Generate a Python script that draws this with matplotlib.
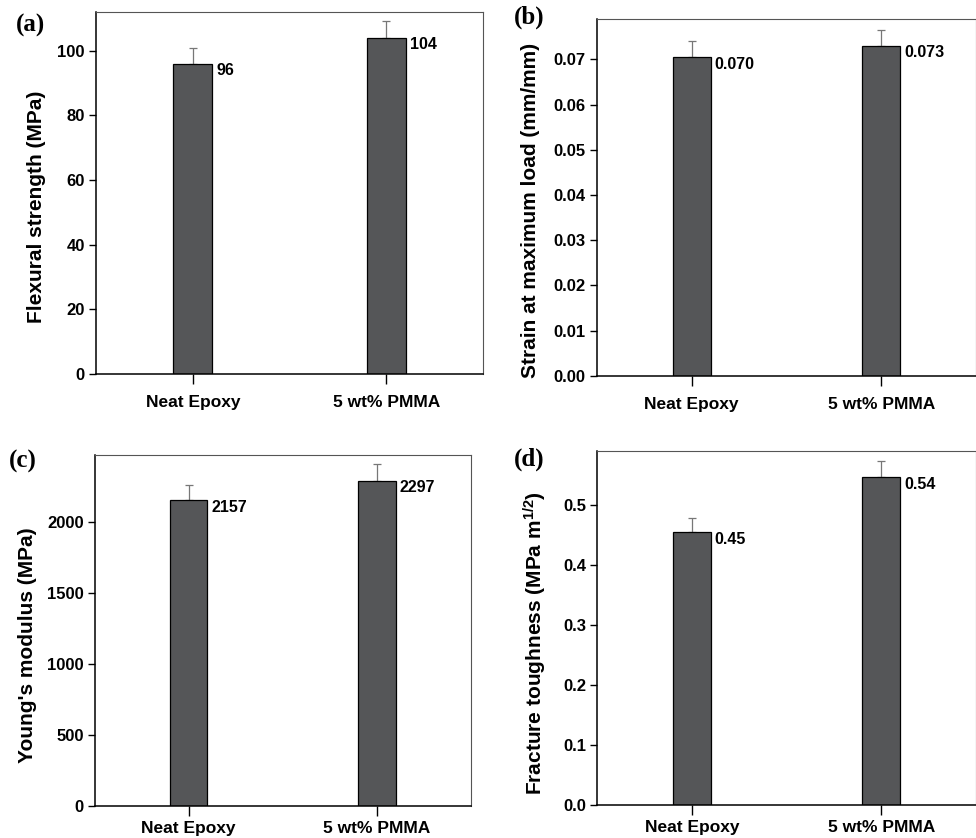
import numpy as np
import matplotlib
matplotlib.use("Agg")
import matplotlib.pyplot as plt

plt.rcParams['font.family'] = ['Liberation Sans', 'DejaVu Sans']
plt.rcParams['font.weight'] = 'bold'
plt.rcParams['mathtext.fontset'] = 'custom'
plt.rcParams['mathtext.rm'] = 'Liberation Sans:bold'
plt.rcParams['mathtext.default'] = 'rm'

categories = ['Neat Epoxy', '5 wt% PMMA']

flex = [96, 104]
flex_err = [4.9, 5.2]
flex_lbl = ['96', '104']

strain = [0.0705, 0.0730]
strain_err = [0.0035, 0.0036]
strain_lbl = ['0.070', '0.073']

modulus = [2157, 2293]
modulus_err = [105, 117]
modulus_lbl = ['2157', '2297']

tough = [0.455, 0.546]
tough_err = [0.024, 0.028]
tough_lbl = ['0.45', '0.54']

bar_color = '#555658'

fig = plt.figure(figsize=(9.76, 8.38), dpi=100)


def panel(rect, vals, errs, lbls, ylabel, ylim, yticks, fmt, letter, letter_xy,
          labelpad, xpad, ylab_y):
    ax = fig.add_axes(rect)
    x = np.arange(len(categories))
    ax.bar(x, vals, width=0.2, color=bar_color, edgecolor='black', linewidth=0.9, zorder=2)
    ax.errorbar(x, vals, yerr=[np.zeros(len(errs)), errs], fmt='none',
                ecolor='#777777', elinewidth=0.9, capsize=3, capthick=0.9, zorder=1)
    for xi, v, s in zip(x, vals, lbls):
        ax.annotate(s, (xi + 0.1, v), xytext=(4, -7), textcoords='offset pixels',
                    ha='left', va='center', fontsize=11.5, fontweight='bold')
    ax.set_xlim(-0.5, 1.5)
    ax.set_ylim(*ylim)
    ax.set_xticks(x)
    ax.set_xticklabels(categories, fontsize=12.5, fontweight='bold')
    ax.set_yticks(yticks)
    ax.set_yticklabels([fmt % t for t in yticks], fontsize=12, fontweight='bold')
    ax.tick_params(axis='x', length=7, width=1, pad=xpad)
    ax.tick_params(axis='y', length=5, width=1, pad=3)
    ax.set_ylabel(ylabel, fontsize=15, fontweight='bold', labelpad=labelpad)
    ax.yaxis.label.set_y(ylab_y)
    for s in ['left', 'bottom']:
        ax.spines[s].set_linewidth(1.1)
        ax.spines[s].set_color('black')
    for s in ['top', 'right']:
        ax.spines[s].set_linewidth(0.8)
        ax.spines[s].set_color('#555555')
    fig.text(letter_xy[0], letter_xy[1], letter, family='Liberation Serif',
             fontsize=18, fontweight='bold', ha='left', va='center')
    return ax


panel([0.0984, 0.5537, 0.3965, 0.432], flex, flex_err, flex_lbl,
      'Flexural strength (MPa)', (0, 112), [0, 20, 40, 60, 80, 100], '%d',
      '(a)', (0.016, 0.970), 8, 8, 0.462)

panel([0.6114, 0.5517, 0.3886, 0.4253], strain, strain_err, strain_lbl,
      'Strain at maximum load (mm/mm)', (0, 0.0789),
      [0, 0.01, 0.02, 0.03, 0.04, 0.05, 0.06, 0.07], '%.2f',
      '(b)', (0.526, 0.979), 10, 8, 0.465)

panel([0.097, 0.0382, 0.3853, 0.4192], modulus, modulus_err, modulus_lbl,
      "Young's modulus (MPa)", (0, 2478), [0, 500, 1000, 1500, 2000], '%d',
      '(c)', (0.009, 0.449), 7, 4, 0.458)

panel([0.6117, 0.0394, 0.3883, 0.4224], tough, tough_err, tough_lbl,
      'Fracture toughness (MPa m$^{1/2}$)', (0, 0.59),
      [0.0, 0.1, 0.2, 0.3, 0.4, 0.5], '%.1f',
      '(d)', (0.526, 0.452), 10, 4, 0.458)

fig.savefig('out.png', dpi=100)
